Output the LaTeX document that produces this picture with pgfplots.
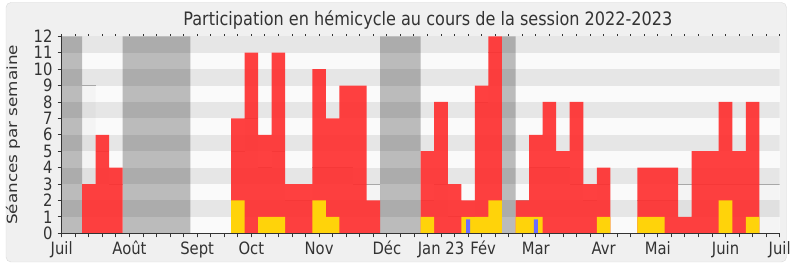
\documentclass[border=0pt]{standalone}
\usepackage{fontspec}
\setmainfont{DejaVu Sans}[FakeStretch=0.87]
\newfontfamily\ylabfont{DejaVu Sans}[FakeStretch=1.2]
\usepackage{pgfplots}
\pgfplotsset{compat=1.18}
\definecolor{bgc}{HTML}{F0F0F0}
\definecolor{framec}{HTML}{DADADA}
\definecolor{stripew}{HTML}{FAFAFA}
\definecolor{stripeg}{HTML}{E6E6E6}
\definecolor{redc}{RGB}{255,44,44}
\definecolor{yelc}{RGB}{255,211,10}
\definecolor{bluec}{RGB}{108,108,255}
\definecolor{medc}{HTML}{A8A8A8}
\definecolor{axc}{HTML}{333333}
\definecolor{txtc}{HTML}{333333}
\begin{document}
\begin{tikzpicture}
\useasboundingbox (0,0) rectangle (790bp,267bp);
\fill[white] (0,0) rectangle (790bp,267bp);
\draw[framec, fill=bgc, rounded corners=5bp] (6bp,5bp) rectangle (786.5bp,264.5bp);
\begin{axis}[
  at={(61.7bp,33.7bp)}, anchor=south west,
  scale only axis, width=718bp, height=197bp,
  xmin=0, xmax=53, ymin=0, ymax=12,
  axis x line*=bottom, axis y line*=left,
  axis on top,
  axis background/.style={fill=stripew},
  axis line style={color=axc, line width=0.8bp},
  xtick={0,...,53}, xticklabels={},
  extra x ticks={0,5,10,14,19,24,28,31,35,40,44,49,53},
  extra x tick labels={Juil,Août,Sept,Oct,Nov,Déc,Jan 23,\hspace*{3bp}Fév,Mar,Avr,Mai,Juin,Juil},
  extra x tick style={grid=none},
  ytick={0,...,12},
  tick align=outside, major tick length=4bp,
  tick style={color=axc, line width=0.8bp},
  /pgf/number format/assume math mode=true,
  tick label style={font=\fontsize{17bp}{20bp}\selectfont, text=txtc, inner sep=0.5bp},
  xticklabel style={anchor=base, yshift=-17bp},
  yticklabel style={anchor=east, xshift=-4.5bp},
  title={Participation en hémicycle au cours de la session 2022-2023},
  title style={at={(axis description cs:0.510,1.027)}, anchor=base, font=\fontsize{18.5bp}{22bp}\selectfont, text=txtc},
  ylabel={Séances par semaine},
  ylabel style={at={(axis description cs:-0.0678,0.5)}, anchor=center, font=\ylabfont\fontsize{14bp}{16bp}\selectfont, text=txtc},
]
% background stripes
\fill[stripeg] (axis cs:0,1) rectangle (axis cs:53,2);
\fill[stripeg] (axis cs:0,3) rectangle (axis cs:53,4);
\fill[stripeg] (axis cs:0,5) rectangle (axis cs:53,6);
\fill[stripeg] (axis cs:0,7) rectangle (axis cs:53,8);
\fill[stripeg] (axis cs:0,9) rectangle (axis cs:53,10);
\fill[stripeg] (axis cs:0,11) rectangle (axis cs:53,12);
\draw[framec!80!black!60] (axis cs:53,0) -- (axis cs:53,12);
% vacation periods
\addplot[ybar interval, fill=black, fill opacity=0.25, draw=none] coordinates {
  (0,12) (1.5,0) (4.5,12) (9.5,0) (23.5,12) (26.5,0) (32.5,12) (33.5,0) (53,0)};
% median of deputies (area)
\addplot[ybar interval, fill=black, fill opacity=0.025, draw=none] coordinates {
  (1.5,9) (2.5,5) (3.5,3) (4.5,0) (12.5,5) (13.5,7) (14.5,4) (15.5,5) (16.5,2)
  (18.5,4) (21.5,3) (23.5,0) (26.5,2) (27.5,3) (28.5,1) (30.5,8) (31.5,11) (32.5,0)
  (33.5,2) (34.5,4) (37.5,3) (38.5,2) (39.5,3) (40.5,0) (42.5,2) (45.5,3) (53,3)};
% median line
\addplot[medc, line width=0.9bp, unbounded coords=jump] coordinates {
  (1.5,9) (2.5,9) (2.5,nan) (2.5,5) (3.5,5) (3.5,nan) (3.5,3) (4.5,3) (4.5,nan)
  (12.5,5) (13.5,5) (13.5,nan) (13.5,7) (14.5,7) (14.5,nan) (14.5,4) (15.5,4) (15.5,nan)
  (15.5,5) (16.5,5) (16.5,nan) (16.5,2) (18.5,2) (18.5,nan) (18.5,4) (21.5,4) (21.5,nan)
  (21.5,3) (23.5,3) (23.5,nan) (26.5,2) (27.5,2) (27.5,nan) (27.5,3) (28.5,3) (28.5,nan)
  (28.5,1) (30.5,1) (30.5,nan) (30.5,8) (31.5,8) (31.5,nan) (31.5,11) (32.5,11) (32.5,nan)
  (33.5,2) (34.5,2) (34.5,nan) (34.5,4) (37.5,4) (37.5,nan) (37.5,3) (38.5,3) (38.5,nan)
  (38.5,2) (39.5,2) (39.5,nan) (39.5,3) (40.5,3) (40.5,nan) (42.5,2) (45.5,2) (45.5,nan)
  (45.5,3) (53,3)};
% presence (red)
\addplot[ybar interval, fill=redc, fill opacity=0.9, draw=none] coordinates {
  (1.5,3) (2.5,6) (3.5,4) (4.5,0) (12.5,7) (13.5,11) (14.5,6) (15.5,11) (16.5,3)
  (17.5,3) (18.5,10) (19.5,7) (20.5,9) (21.5,9) (22.5,2) (23.5,0) (26.5,5) (27.5,8)
  (28.5,3) (29.5,2) (30.5,9) (31.5,12) (32.5,0) (33.5,2) (34.5,6) (35.5,8) (36.5,5)
  (37.5,8) (38.5,3) (39.5,4) (40.5,0) (42.5,4) (43.5,4) (44.5,4) (45.5,1) (46.5,5)
  (47.5,5) (48.5,8) (49.5,5) (50.5,8) (51.5,0) (53,0)};
% interventions (yellow)
\addplot[ybar interval, fill=yelc, draw=none] coordinates {
  (12.5,2) (13.5,0) (14.5,1) (15.5,1) (16.5,0) (18.5,2) (19.5,1) (20.5,0) (26.5,1)
  (27.5,0) (29.5,1) (30.5,1) (31.5,2) (32.5,0) (33.5,1) (34.5,1) (35.5,0) (39.5,1)
  (40.5,0) (42.5,1) (43.5,1) (44.5,0) (48.5,2) (49.5,0) (50.5,1) (51.5,0) (53,0)};
% questions (blue)
\addplot[ybar, bar width=4bp, fill=bluec, draw=none] coordinates {(30,0.85) (35,0.85)};
\end{axis}
\begin{axis}[
  at={(61.7bp,33.7bp)}, anchor=south west,
  scale only axis, width=718bp, height=197bp,
  xmin=0, xmax=53, ymin=0, ymax=12,
  axis x line*=top, axis y line=none,
  axis line style={draw=none},
  xtick={0,...,53}, xticklabels={},
  tick align=outside, major tick length=1.8bp,
  tick style={color=axc, line width=0.9bp},
]
\end{axis}
\end{tikzpicture}
\end{document}
